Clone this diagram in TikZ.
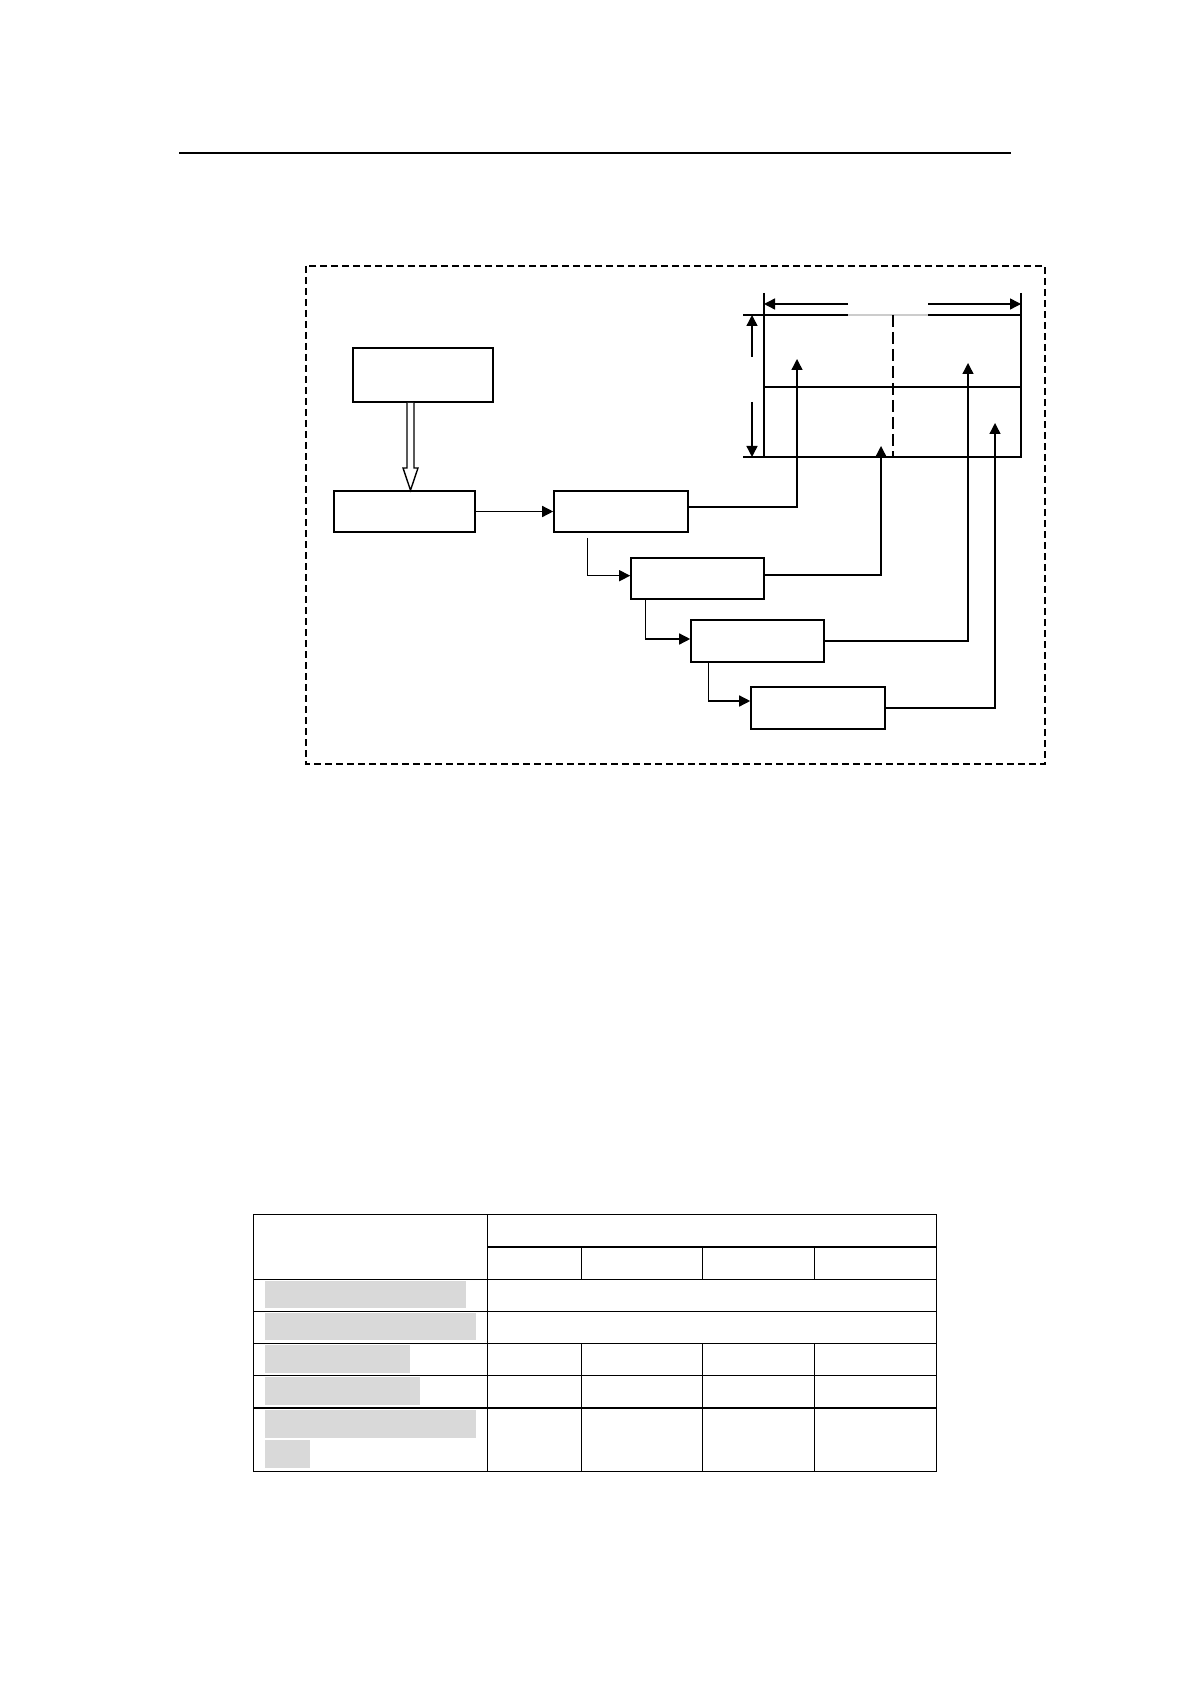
\documentclass[tikz,border=0pt]{standalone}
\usetikzlibrary{arrows.meta}
\definecolor{redact}{HTML}{D9D9D9}
\begin{document}
\begin{tikzpicture}[x=0.5pt,y=-0.5pt,
  box/.style={draw,line width=0.8pt,inner sep=0pt},
  conn/.style={line width=0.7pt},
  arr/.style={conn,-{Triangle[length=5.5pt,width=5.5pt]}},
  dimarr/.style={conn,-{Triangle[length=5.5pt,width=5.5pt]}},
  frame/.style={dash pattern=on 3.5pt off 2pt,line width=0.6pt},
  tbl/.style={line width=0.6pt},
  bar/.style={fill=redact,draw=none}]
\useasboundingbox (0,0) rectangle (1191,1684);
% header rule
\draw[line width=1pt] (179,153.5) -- (1011,153.5);
% dashed frame
\draw[frame] (306,266) rectangle (1045,764);
% boxes
\node[box,minimum width=70pt,minimum height=27pt] (A) at (423,375) {};
\node[box,minimum width=70.5pt,minimum height=20.5pt] (B) at (404.5,511.5) {};
\node[box,minimum width=67pt,minimum height=20.5pt] (C) at (621,511.5) {};
\node[box,minimum width=66.5pt,minimum height=20.5pt] (D) at (697.5,578.5) {};
\node[box,minimum width=66.5pt,minimum height=21pt] (E) at (757.5,641) {};
\node[box,minimum width=67pt,minimum height=21pt] (F) at (818,708) {};
% grid
\coordinate (g1) at (764,315);
\coordinate (g2) at (1021,457);
\draw[line width=0.9pt] (848,315) -- (764,315) -- (764,457) -- (1021,457) -- (1021,315) -- (928,315);
\draw[line width=0.9pt,gray!40] (848,315) -- (928,315);
\draw[line width=0.9pt] (764,387) -- (1021,387);
\draw[line width=0.9pt,dash pattern=on 6pt off 2.5pt] (893,315) -- (893,457);
% dimension lines
\draw[conn] (764,293) -- (764,315);
\draw[conn] (1021,293) -- (1021,315);
\draw[conn] (743,315) -- (764,315);
\draw[conn] (743,457) -- (764,457);
\draw[dimarr] (848,304) -- (764,304);
\draw[dimarr] (928,304) -- (1021,304);
\draw[dimarr] (752,357) -- (752,315);
\draw[dimarr] (752,402) -- (752,457);
% targets in grid
\coordinate (t1) at (797,359);
\coordinate (t2) at (881,446);
\coordinate (t3) at (968,363);
\coordinate (t4) at (995,423);
% hollow arrow A -> B
\draw[line width=0.7pt,fill=white] (407,0 |- A.south) -- (407,468) -- (403,468) -- (410.5,0 |- B.north) -- (418,468) -- (414,468) -- (414,0 |- A.south);
% connectors
\draw[arr] (B.east) -- (C.west);
\draw[arr] ([yshift=2.25pt]C.east) -| (t1);
\draw[arr] ([yshift=1.75pt]D.east) -| (t2);
\draw[arr] (E.east) -| (t3);
\draw[arr] (F.east) -| (t4);
\draw[arr] ([xshift=17pt,yshift=-2.5pt]C.south west) |- ([yshift=1.4pt]D.west);
\draw[arr] ([xshift=7.5pt]D.south west) |- ([yshift=1pt]E.west);
\draw[arr] ([xshift=9pt]E.south west) |- ([yshift=3.5pt]F.west);
% table
\draw[tbl] (253.5,1214.6) rectangle (936.5,1471.4);
\draw[tbl] (487.6,1214.6) -- (487.6,1471.4);
\draw[tbl] (487.6,1246.9) -- (936.5,1246.9);
\foreach \yy in {1279.1,1311.3,1343.5,1375.7,1408}
  \draw[tbl] (253.5,\yy) -- (936.5,\yy);
\foreach \xx in {581.8,702.6,814.6} {
  \draw[tbl] (\xx,1246.9) -- (\xx,1279.1);
  \draw[tbl] (\xx,1343.5) -- (\xx,1471.4);
}
% redacted text bars
\fill[bar] (265,1281) rectangle (466,1307.7);
\fill[bar] (265,1313.3) rectangle (476,1339.7);
\fill[bar] (265,1345.3) rectangle (410.4,1372.7);
\fill[bar] (265,1377.3) rectangle (420,1404.7);
\fill[bar] (265,1410) rectangle (476,1437.7);
\fill[bar] (265,1440) rectangle (309.8,1467.7);
\end{tikzpicture}
\end{document}
